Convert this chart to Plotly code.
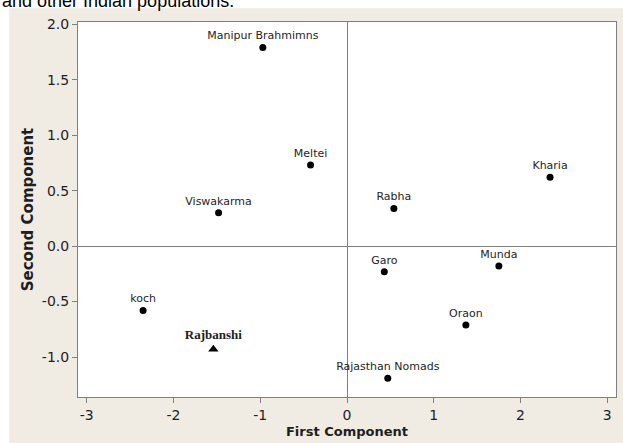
import plotly.graph_objects as go

# Data
names = ["Manipur Brahmimns", "Meltei", "Viswakarma", "Rabha", "Kharia",
         "Garo", "Munda", "Oraon", "Rajasthan Nomads", "koch"]
first_comp = [-0.97, -0.42, -1.48, 0.54, 2.34, 0.43, 1.75, 1.37, 0.47, -2.35]
second_comp = [1.79, 0.73, 0.30, 0.34, 0.62, -0.23, -0.18, -0.71, -1.19, -0.58]

focus_name = ["Rajbanshi"]
focus_x = [-1.54]
focus_y = [-0.93]

x_ticks = [-3, -2, -1, 0, 1, 2, 3]
x_tick_labels = ["-3", "-2", "-1", "0", "1", "2", "3"]
y_ticks = [-1.0, -0.5, 0.0, 0.5, 1.0, 1.5, 2.0]
y_tick_labels = ["-1.0", "-0.5", "0.0", "0.5", "1.0", "1.5", "2.0"]

BEIGE = "#f0ebe3"
GRAY = "#7f7f7f"
TXT = "#1e1e1e"

fig = go.Figure()
fig.add_trace(go.Scatter(
    x=first_comp, y=second_comp, text=names, mode="markers+text",
    textposition="top center",
    marker=dict(color="black", size=7, symbol="circle"),
    textfont=dict(family="DejaVu Sans", size=11, color=TXT),
    cliponaxis=False, hoverinfo="text", showlegend=False))
fig.add_trace(go.Scatter(
    x=focus_x, y=focus_y, text=["<b>%s</b>" % n for n in focus_name],
    mode="markers+text", textposition="top center",
    marker=dict(color="black", size=9, symbol="triangle-up"),
    textfont=dict(family="Liberation Serif", size=13, color=TXT),
    cliponaxis=False, hoverinfo="text", showlegend=False))

axis_common = dict(
    showgrid=False, zeroline=True, zerolinecolor=GRAY, zerolinewidth=1,
    showline=True, linecolor=GRAY, linewidth=1, mirror=True,
    ticks="outside", ticklen=5, tickcolor=GRAY, tickwidth=1,
    tickfont=dict(family="DejaVu Sans", size=14, color=TXT),
)

fig.update_xaxes(range=[-3.1, 3.1], tickvals=x_ticks, ticktext=x_tick_labels,
                 title=dict(text="<b>First Component</b>", standoff=5,
                            font=dict(family="DejaVu Sans", size=13, color=TXT)),
                 **axis_common)
fig.update_yaxes(range=[-1.36, 2.02], tickvals=y_ticks, ticktext=y_tick_labels,
                 title=dict(text="<b>Second Component</b>", standoff=4,
                            font=dict(family="DejaVu Sans", size=15, color=TXT)),
                 **axis_common)

# white strips around the beige panel (top and left), and cut-off caption
fig.add_shape(type="rect", xref="paper", yref="paper", x0=-0.2, x1=1.1,
              y0=1.037, y1=1.1, fillcolor="white", line_width=0, layer="below")
fig.add_shape(type="rect", xref="paper", yref="paper", x0=-0.2, x1=-0.128,
              y0=-0.2, y1=1.1, fillcolor="white", line_width=0, layer="below")
fig.add_annotation(text="and other Indian populations.", xref="paper", yref="paper",
                   x=-0.1447, y=1.057, xanchor="left", yanchor="middle",
                   showarrow=False,
                   font=dict(family="Liberation Sans", size=18, color="black"))

fig.update_layout(
    width=623, height=443,
    margin=dict(l=78, r=6, t=22, b=44),
    paper_bgcolor=BEIGE, plot_bgcolor="white",
)

fig.write_html("out.html")
